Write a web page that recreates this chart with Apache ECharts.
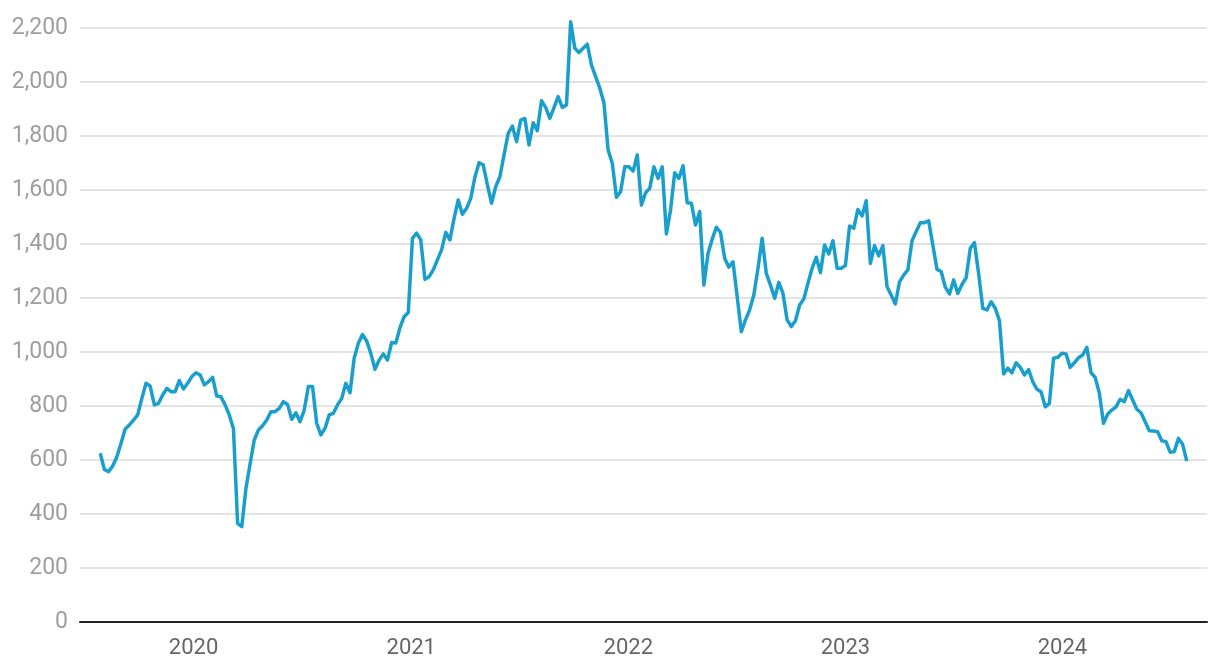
<!DOCTYPE html>
<html>
<head>
<meta charset="utf-8">
<script src="https://cdn.jsdelivr.net/npm/echarts@6/dist/echarts.min.js"></script>
<style>
  html, body { margin: 0; padding: 0; background: #ffffff; }
  #chart { width: 1220px; height: 672px; }
</style>
</head>
<body>
<div id="chart"></div>
<script>
const dates = [
  '2019-07-28','2019-08-04','2019-08-11','2019-08-18','2019-08-25','2019-09-01','2019-09-08','2019-09-15','2019-09-22','2019-09-29',
  '2019-10-06','2019-10-13','2019-10-20','2019-10-27','2019-11-03','2019-11-10','2019-11-17','2019-11-24','2019-12-01','2019-12-08',
  '2019-12-15','2019-12-22','2019-12-29',
  '2020-01-05','2020-01-12','2020-01-19','2020-01-26','2020-02-02','2020-02-09','2020-02-16','2020-02-23','2020-03-01','2020-03-08',
  '2020-03-15','2020-03-22','2020-03-29','2020-04-05','2020-04-12','2020-04-19','2020-04-26','2020-05-03','2020-05-10','2020-05-17',
  '2020-05-24','2020-05-31','2020-06-07','2020-06-14','2020-06-21','2020-06-28','2020-07-05','2020-07-12','2020-07-19','2020-07-26',
  '2020-08-02','2020-08-09','2020-08-16','2020-08-23','2020-08-30','2020-09-06','2020-09-13','2020-09-20','2020-09-27','2020-10-04',
  '2020-10-11','2020-10-18','2020-10-25','2020-11-01','2020-11-08','2020-11-15','2020-11-22','2020-11-29','2020-12-06','2020-12-13',
  '2020-12-20','2020-12-27',
  '2021-01-03','2021-01-10','2021-01-17','2021-01-24','2021-01-31','2021-02-07','2021-02-14','2021-02-21','2021-02-28','2021-03-07',
  '2021-03-14','2021-03-21','2021-03-28','2021-04-04','2021-04-11','2021-04-18','2021-04-25','2021-05-02','2021-05-09','2021-05-16',
  '2021-05-23','2021-05-30','2021-06-06','2021-06-13','2021-06-20','2021-06-27','2021-07-04','2021-07-11','2021-07-18','2021-07-25',
  '2021-08-01','2021-08-08','2021-08-15','2021-08-22','2021-08-29','2021-09-05','2021-09-12','2021-09-19','2021-09-26','2021-10-03',
  '2021-10-10','2021-10-17','2021-10-24','2021-10-31','2021-11-07','2021-11-14','2021-11-21','2021-11-28','2021-12-05','2021-12-12',
  '2021-12-19','2021-12-26',
  '2022-01-02','2022-01-09','2022-01-16','2022-01-23','2022-01-30','2022-02-06','2022-02-13','2022-02-20','2022-02-27','2022-03-06',
  '2022-03-13','2022-03-20','2022-03-27','2022-04-03','2022-04-10','2022-04-17','2022-04-24','2022-05-01','2022-05-08','2022-05-15',
  '2022-05-22','2022-05-29','2022-06-05','2022-06-12','2022-06-19','2022-06-26','2022-07-03','2022-07-10','2022-07-17','2022-07-24',
  '2022-07-31','2022-08-07','2022-08-14','2022-08-21','2022-08-28','2022-09-04','2022-09-11','2022-09-18','2022-09-25','2022-10-02',
  '2022-10-09','2022-10-16','2022-10-23','2022-10-30','2022-11-06','2022-11-13','2022-11-20','2022-11-27','2022-12-04','2022-12-11',
  '2022-12-18','2022-12-25',
  '2023-01-01','2023-01-08','2023-01-15','2023-01-22','2023-01-29','2023-02-05','2023-02-12','2023-02-19','2023-02-26','2023-03-05',
  '2023-03-12','2023-03-19','2023-03-26','2023-04-02','2023-04-09','2023-04-16','2023-04-23','2023-04-30','2023-05-07','2023-05-14',
  '2023-05-21','2023-05-28','2023-06-04','2023-06-11','2023-06-18','2023-06-25','2023-07-02','2023-07-09','2023-07-16','2023-07-23',
  '2023-07-30','2023-08-06','2023-08-13','2023-08-20','2023-08-27','2023-09-03','2023-09-10','2023-09-17','2023-09-24','2023-10-01',
  '2023-10-08','2023-10-15','2023-10-22','2023-10-29','2023-11-05','2023-11-12','2023-11-19','2023-11-26','2023-12-03','2023-12-10',
  '2023-12-17','2023-12-24','2023-12-31',
  '2024-01-07','2024-01-14','2024-01-21','2024-01-28','2024-02-04','2024-02-11','2024-02-18','2024-02-25','2024-03-03','2024-03-10',
  '2024-03-17','2024-03-24','2024-03-31','2024-04-07','2024-04-14','2024-04-21','2024-04-28','2024-05-05','2024-05-12','2024-05-19',
  '2024-05-26','2024-06-02','2024-06-09','2024-06-16','2024-06-23','2024-06-30','2024-07-07','2024-07-14','2024-07-21','2024-07-28'
];

const values = [
  625, 565, 557, 578, 612, 662, 715, 730, 748, 767,
  828, 884, 874, 804, 810, 841, 865, 853, 853, 894,
  863, 884, 909, 923, 915, 878, 890, 906, 837, 834,
  804, 767, 717, 365, 353, 495, 585, 674, 711, 727,
  748, 779, 779, 791, 816, 806, 751, 775, 742, 785,
  872, 872, 736, 693, 717, 767, 773, 804, 828, 884,
  849, 977, 1032, 1065, 1041, 995, 936, 970, 993, 970,
  1035, 1033, 1090, 1131, 1146, 1421, 1440, 1415, 1269, 1279,
  1304, 1341, 1378, 1443, 1415, 1495, 1563, 1510, 1532, 1569,
  1647, 1701, 1693, 1619, 1551, 1612, 1649, 1730, 1810, 1837,
  1779, 1859, 1865, 1767, 1849, 1820, 1931, 1906, 1865, 1905,
  1946, 1906, 1915, 2223, 2125, 2109, 2125, 2140, 2063, 2020,
  1977, 1923, 1748, 1699, 1573, 1594, 1686, 1686, 1670, 1730,
  1544, 1590, 1606, 1686, 1643, 1686, 1437, 1526, 1664, 1643,
  1690, 1553, 1551, 1470, 1520, 1248, 1365, 1418, 1462, 1443,
  1347, 1314, 1334, 1205, 1075, 1119, 1156, 1211, 1310, 1421,
  1291, 1248, 1199, 1258, 1217, 1119, 1094, 1116, 1174, 1196,
  1254, 1310, 1351, 1294, 1396, 1363, 1412, 1310, 1310, 1320,
  1467, 1458, 1528, 1504, 1560, 1328, 1394, 1356, 1394, 1242,
  1211, 1178, 1260, 1285, 1304, 1412, 1446, 1479, 1479, 1486,
  1396, 1306, 1298, 1240, 1215, 1267, 1217, 1250, 1275, 1384,
  1405, 1291, 1162, 1156, 1186, 1162, 1116, 919, 940, 923,
  960, 943, 915, 935, 890, 862, 853, 797, 810, 977,
  980, 995, 993, 943, 960, 979, 989, 1017, 923, 906,
  847, 736, 770, 785, 797, 825, 816, 857, 822, 788,
  775, 742, 708, 707, 705, 671, 668, 629, 631, 680,
  658, 596
];

const yearTicks = ['2020-01-01', '2021-01-01', '2022-01-01', '2023-01-01', '2024-01-01'];
const yearLabels = ['2020', '2021', '2022', '2023', '2024'];

const xMin = '2019-06-24';
const xMax = '2024-08-31';

function toTime(s) {
  const p = s.split('-').map(Number);
  return Date.UTC(p[0], p[1] - 1, p[2]);
}

const tickTimes = yearTicks.map(toTime);
const seriesData = dates.map((d, i) => [toTime(d), values[i]]);

const chart = echarts.init(document.getElementById('chart'), null, { renderer: 'canvas' });
chart.setOption({
  animation: false,
  backgroundColor: '#ffffff',
  textStyle: { fontFamily: 'Roboto' },
  grid: { left: 80, right: 13, top: 28, bottom: 50, containLabel: false },
  xAxis: {
    type: 'value',
    min: toTime(xMin),
    max: toTime(xMax),
    axisLine: { show: true, onZero: false, lineStyle: { color: '#222222', width: 2 } },
    axisTick: { show: false },
    splitLine: { show: false },
    axisLabel: {
      customValues: tickTimes,
      formatter: function (v) {
        let best = 0, bestDiff = Infinity;
        tickTimes.forEach((t, i) => {
          const diff = Math.abs(t - v);
          if (diff < bestDiff) { bestDiff = diff; best = i; }
        });
        return yearLabels[best];
      },
      color: '#666666',
      fontSize: 22,
      fontFamily: 'Roboto',
      margin: 15,
      showMinLabel: true,
      showMaxLabel: true,
      hideOverlap: false
    }
  },
  yAxis: {
    type: 'value',
    min: 0,
    max: 2200,
    interval: 200,
    axisLine: { show: false },
    axisTick: { show: false },
    splitLine: { show: true, lineStyle: { color: '#e4e4e4', width: 2 } },
    axisLabel: {
      color: '#9e9e9e',
      fontSize: 23,
      fontFamily: 'Roboto',
      margin: 12,
      formatter: function (v) { return v.toLocaleString('en-US'); }
    }
  },
  series: [{
    type: 'line',
    data: seriesData,
    clip: false,
    showSymbol: false,
    symbol: 'none',
    smooth: false,
    lineStyle: { color: '#1a9fcc', width: 3.5, join: 'round' },
    itemStyle: { color: '#1a9fcc' }
  }]
});
</script>
</body>
</html>
